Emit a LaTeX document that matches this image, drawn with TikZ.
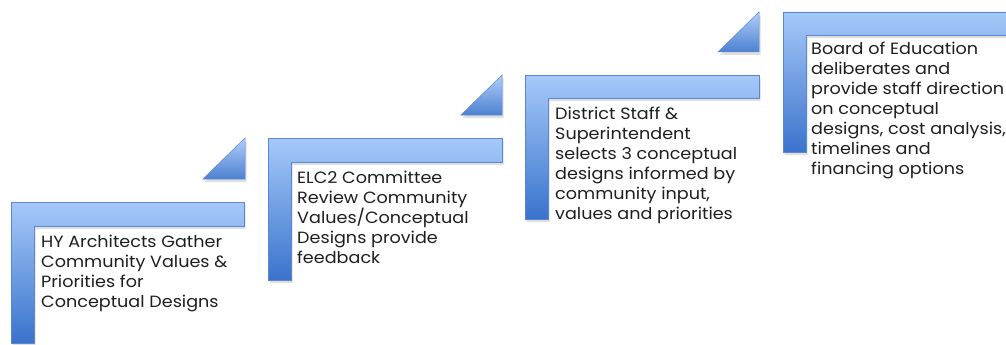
\documentclass[tikz,border=0pt]{standalone}
\usepackage{fontspec}
\setmainfont[FakeStretch=1.08]{Poppins}
\usetikzlibrary{shadows}
\definecolor{steptop}{HTML}{A6C9F9}
\definecolor{stepbottom}{HTML}{3A73CC}
\definecolor{stepline}{HTML}{5888D4}
\definecolor{steptext}{HTML}{1E1E1E}
\tikzset{
    stair/.style={draw=stepline, line width=0.6pt, top color=steptop, bottom color=stepbottom,
      drop shadow={opacity=0.25, shadow xshift=1.5pt, shadow yshift=-3pt}},
    riser/.style={draw=stepline, line width=0.5pt, top color=steptop!90, bottom color=stepbottom!90,
      drop shadow={opacity=0.25, shadow xshift=1.5pt, shadow yshift=-3pt}},
    steplabel/.style={anchor=north west, inner sep=0pt, align=left, text=steptext,
      font=\fontsize{16.3}{20}\selectfont},
}

\begin{document}
\begin{tikzpicture}[x=1pt,y=-1pt]
\useasboundingbox (0,0) rectangle (1006,345);
% steps
\draw[stair] (11,202) -- (244,202) -- (244,226) -- (34,226) -- (34,343) -- (11,343) -- cycle;
\draw[stair] (268,138) -- (502,138) -- (502,162) -- (291,162) -- (291,280) -- (268,280) -- cycle;
\draw[stair] (525,75) -- (759,75) -- (759,98) -- (548,98) -- (548,219) -- (525,219) -- cycle;
\draw[stair] (783,12) -- (1012,12) -- (1012,35) -- (806,35) -- (806,152) -- (783,152) -- cycle;
% small triangles
\draw[riser] (203,179) -- (245,179) -- (245,138) -- cycle;
\draw[riser] (461,115) -- (502,115) -- (502,75) -- cycle;
\draw[riser] (718,52) -- (759,52) -- (759,12) -- cycle;
% texts
\node[steplabel] (hy) at (41,235) {HY Architects Gather\\Community Values \&\\Priorities for\\Conceptual Designs};
\node[steplabel] (elc) at (297,171) {ELC2 Committee\\Review Community\\Values/Conceptual\\Designs provide\\feedback};
\node[steplabel] (district) at (555,107) {District Staff \&\\Superintendent\\selects 3 conceptual\\designs informed by\\community input,\\values and priorities};
\node[steplabel] (board) at (811,42) {Board of Education\\deliberates and\\provide staff direction\\on conceptual\\designs, cost analysis,\\timelines and\\financing options};
\end{tikzpicture}
\end{document}
